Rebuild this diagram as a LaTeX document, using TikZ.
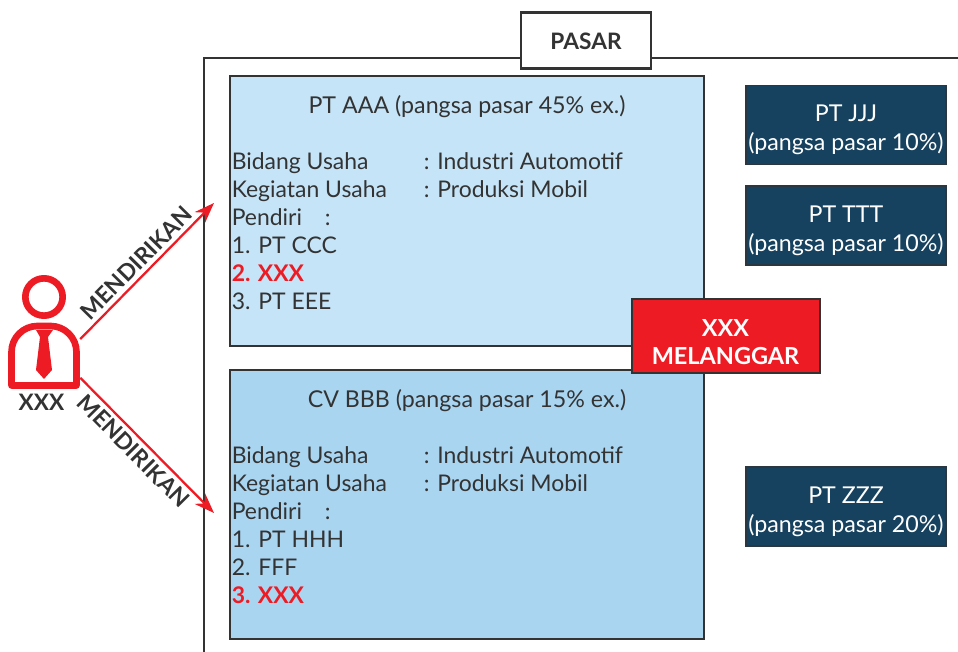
\documentclass[tikz,border=0pt]{standalone}
\usepackage{fontspec}
\setmainfont{Lato}
\usetikzlibrary{arrows.meta}
\definecolor{inkgray}{HTML}{333333}
\definecolor{redmark}{HTML}{ED1C24}
\definecolor{navy}{HTML}{16425F}
\definecolor{skyA}{HTML}{C6E4F7}
\definecolor{skyB}{HTML}{A9D5F1}
\newcommand{\bodyfont}{\fontsize{17.2}{21}\selectfont}
\newcommand{\redline}[1]{{\color{redmark}\bfseries #1}}
\newcommand{\fieldname}[1]{\makebox[144pt][l]{#1}}
\newcommand{\lowered}[1]{\rule{0pt}{#1}}
\tikzstyle{company} = [rectangle, draw=inkgray, line width=1.6pt, minimum width=355pt, inner sep=0pt]
\tikzstyle{rival} = [rectangle, draw=inkgray!70!navy, line width=1.2pt, fill=navy, text=white, minimum width=150pt, minimum height=59.5pt, inner sep=0pt, align=center, font=\fontsize{17.4}{21.5}\selectfont]
\tikzstyle{heading} = [text=inkgray, font=\fontsize{17.4}{21}\selectfont, inner sep=0pt]
\tikzstyle{details} = [text=inkgray, font=\bodyfont, inner sep=0pt, align=left, anchor=north west]
\tikzstyle{arrow} = [redmark, line width=1.7pt, -{Stealth[length=15pt,width=11pt]}]
\tikzstyle{verb} = [text=inkgray, font=\fontsize{17.2}{20}\selectfont\bfseries, sloped, inner sep=3pt]
\tikzstyle{icon} = [redmark, line width=5pt, line join=round]
\begin{document}
\begin{tikzpicture}[x=0.75pt,y=-0.75pt]
    \useasboundingbox (0,0) rectangle (958,652);
    \coordinate (framefoot) at (204,652);
    \coordinate (framecorner) at (204,58);
    \coordinate (frameend) at (958,58);
    \draw [inkgray, line width=1.6pt] (framefoot) -- (framecorner) -- (frameend);
    \node [draw=inkgray, line width=1.6pt, fill=white, minimum width=98pt, minimum height=42pt, font=\fontsize{17}{20}\selectfont\bfseries, text=inkgray] at (586,40.5) (pasar) {\lowered{13.5pt}PASAR};
    \node [company, fill=skyA, minimum height=202pt] at (467,211) (aaa) {};
    \node [company, fill=skyB, minimum height=201.5pt] at (467,504.5) (bbb) {};
    \node [heading] at (467,107) (aaatitle) {PT AAA (pangsa pasar 45\% ex.)};
    \node [heading] at (467,401) (bbbtitle) {CV BBB (pangsa pasar 15\% ex.)};
    \node [details] at (231.5,152) (aaatext) {\fieldname{Bidang Usaha}: Industri Automotif\\
        \fieldname{Kegiatan Usaha}: Produksi Mobil\\
        Pendiri\quad:\\
        1. PT CCC\\
        \redline{2. XXX}\\
        3. PT EEE};
    \node [details] at (231.5,446) (bbbtext) {\fieldname{Bidang Usaha}: Industri Automotif\\
        \fieldname{Kegiatan Usaha}: Produksi Mobil\\
        Pendiri\quad:\\
        1. PT HHH\\
        2. FFF\\
        \redline{3. XXX}};
    \node [rival] at (846,125) (jjj) {\lowered{20pt}PT JJJ\\(pangsa pasar 10\%)};
    \node [rival] at (846,225.5) (ttt) {\lowered{20pt}PT TTT\\(pangsa pasar 10\%)};
    \node [rival] at (846,506.5) (zzz) {\lowered{20pt}PT ZZZ\\(pangsa pasar 20\%)};
    \node [rectangle, draw=inkgray, line width=1.5pt, fill=redmark, text=white, minimum width=141pt, minimum height=56pt, inner sep=0pt, align=center, font=\fontsize{17.6}{21.5}\selectfont\bfseries] at (725.5,336) (melanggar) {\lowered{22pt}XXX\\MELANGGAR};
    % person icon
    \node [minimum width=54pt, minimum height=49.5pt, inner sep=0pt] at (44,356) (person) {};
    \node [icon, draw, circle, minimum size=28pt, inner sep=0pt] at (44,297) (head) {};
    \draw [icon] (11.5,385.5) -- (76.5,385.5) -- (76.5,352) arc (0:-90:26) -- (37.5,326) arc (-90:-180:26) -- cycle;
    \fill [redmark] (36,330) -- (53,330) -- (48,337) -- (52,370) -- (44,379) -- (36,370) -- (40,337) -- cycle;
    \node [text=inkgray, font=\fontsize{17}{20}\selectfont\bfseries, inner sep=0pt] at (41.5,402) (personname) {XXX};
    \coordinate (uptip) at (214,203);
    \coordinate (downtip) at (214,513);
    \draw [arrow] (person.25) -- (uptip) node [verb, above, pos=0.49] {MENDIRIKAN};
    \draw [arrow] (person.-31) -- (downtip) node [verb, below, pos=0.47] {MENDIRIKAN};
    \end{tikzpicture}
\end{document}
